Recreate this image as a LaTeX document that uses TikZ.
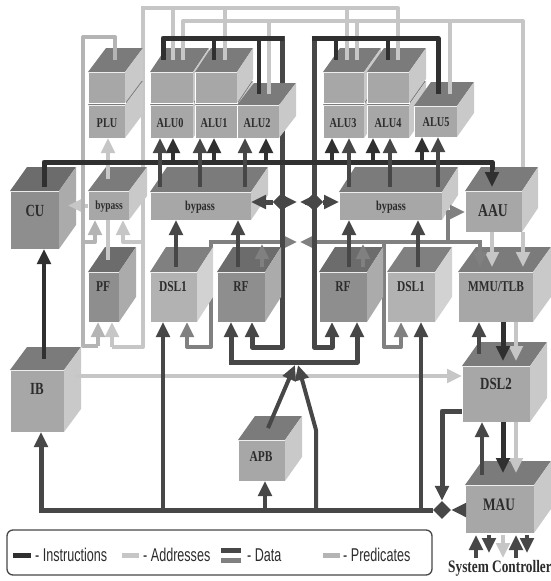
\documentclass[tikz,border=0pt]{standalone}
\usepackage{fontspec}
\setmainfont{Liberation Serif}
\newfontfamily\cubefont[FakeStretch=0.76]{Liberation Serif Bold}
\newfontfamily\legendfont[FakeStretch=0.68]{Liberation Sans}
\usetikzlibrary{arrows.meta,shapes.geometric,backgrounds}
\definecolor{stdface}{HTML}{A7A7A7}\definecolor{stdside}{HTML}{C9C9C9}\definecolor{stdtop}{HTML}{7B7B7B}
\definecolor{darkface}{HTML}{8E8E8E}\definecolor{darkside}{HTML}{ABABAB}\definecolor{darktop}{HTML}{6C6C6C}
\definecolor{liteface}{HTML}{B2B2B2}\definecolor{liteside}{HTML}{D2D2D2}\definecolor{litetop}{HTML}{808080}
\definecolor{cI}{HTML}{303030}\definecolor{cD}{HTML}{474747}\definecolor{cM}{HTML}{808080}
\definecolor{cA}{HTML}{C6C6C6}\definecolor{cP}{HTML}{B4B4B4}\definecolor{cT}{HTML}{2C2C2C}
\tikzset{
 cubeface/.style={draw=white,line width=.5pt,inner sep=0pt,outer sep=0pt,anchor=north west},
 lbl/.style={text=cT,inner sep=0pt,font=\cubefont\fontsize{#1}{#1}\selectfont},
 wire/.style={line width=4pt,line join=round},
 instr/.style={wire,draw=cI},
 datad/.style={wire,draw=cD},
 datam/.style={wire,draw=cM},
 addr/.style={wire,draw=cA},
 pred/.style={wire,draw=cP},
 heavy/.style={line width=5pt},
 arrowed/.style={-{Triangle[length=15pt,width=13.5pt]}},
 junction/.style={diamond,aspect=1,fill=cD,inner sep=0pt,minimum width=18pt,minimum height=18pt},
 legtext/.style={text=cT,inner sep=0pt,anchor=west,font=\legendfont\fontsize{18.5}{19}\selectfont},
 legbar/.style={line width=5pt},
}
% name, x, y, w, h, dx, dy, tone
\newcommand\cube[8]{%
 \node[cubeface,fill=#8face,minimum width=#4pt,minimum height=#5pt] (#1) at (#2,#3) {};
 \fill[#8top] (#1.north west) -- ++(#6,-#7) -- ++(#4,0) -- (#1.north east) -- cycle;
 \fill[#8side] (#1.north east) -- ++(#6,-#7) -- ++(0,#5) -- (#1.south east) -- cycle;
 \coordinate (#1-top) at ([xshift=.5*#6 pt,yshift=.5*#7 pt]#1.north);
 \coordinate (#1-lip) at ([yshift=5pt]#1.north);
}
\begin{document}
\begin{tikzpicture}[x=1pt,y=-1pt]
\useasboundingbox (0,0) rectangle (551,581);
% ---------- blocks
\cube{PLU}{88}{105}{37}{33}{18}{24}{std}
\cube{PLUup}{88}{72}{37}{31}{18}{24}{std}
\cube{ALU0}{150}{105}{43}{33}{16}{24}{std}
\cube{ALU0up}{150}{72}{43}{31}{16}{24}{std}
\cube{ALU1}{195}{105}{42}{33}{16}{24}{std}
\cube{ALU1up}{195}{72}{42}{31}{16}{24}{std}
\cube{ALU2}{237}{105}{42}{33}{17}{22}{std}
\cube{ALU3}{323}{105}{41}{33}{17}{24}{std}
\cube{ALU3up}{323}{72}{41}{31}{17}{24}{std}
\cube{ALU4}{367}{105}{42}{33}{17}{24}{std}
\cube{ALU4up}{367}{72}{42}{31}{17}{24}{std}
\cube{ALU5}{414}{106}{43}{31}{17}{24}{std}
\cube{CU}{10}{191}{49}{58}{17}{24}{dark}
\cube{bypassS}{88}{191}{41}{29}{18}{24}{std}
\cube{bypassL}{150}{192}{101}{28}{17}{25}{std}
\cube{bypassR}{339}{192}{103}{28}{16}{25}{std}
\cube{AAU}{465}{191}{57}{41}{16}{24}{std}
\cube{PF}{88}{272}{31}{50}{17}{25}{dark}
\cube{DSL1L}{150}{272}{47}{50}{16}{25}{lite}
\cube{RFL}{217}{272}{48}{50}{16}{25}{dark}
\cube{RFR}{319}{272}{48}{50}{16}{25}{dark}
\cube{DSL1R}{387}{272}{48}{50}{17}{25}{lite}
\cube{MMU}{458}{272}{75}{50}{18}{25}{std}
\cube{DSL2}{462}{366}{68}{56}{17}{24}{std}
\cube{MAU}{465}{485}{69}{48}{17}{24}{std}
\cube{IB}{10}{370}{54}{62}{17}{23}{std}
\cube{APB}{238}{440}{47}{41}{17}{24}{std}
% ---------- block labels
\node[lbl=13.5] (tPLU) at (107,123) {PLU};
\node[lbl=13.5] (tALU0) at (170,123) {ALU0};
\node[lbl=13.5] (tALU1) at (214,123) {ALU1};
\node[lbl=13.5] (tALU2) at (257,123) {ALU2};
\node[lbl=13.5] (tALU3) at (343,123) {ALU3};
\node[lbl=13.5] (tALU4) at (388,123) {ALU4};
\node[lbl=13.5] (tALU5) at (436,122) {ALU5};
\node[lbl=17] (tCU) at (35,211) {CU};
\node[lbl=12.5] (tbS) at (109,207) {bypass};
\node[lbl=13.5] (tbL) at (200,207) {bypass};
\node[lbl=13.5] (tbR) at (391,207) {bypass};
\node[lbl=18] (tAAU) at (493,211) {AAU};
\node[lbl=15] (tPF) at (103,287) {PF};
\node[lbl=15] (tDL) at (173,287) {DSL1};
\node[lbl=15] (tRL) at (241,287) {RF};
\node[lbl=15] (tRR) at (343,287) {RF};
\node[lbl=15] (tDR) at (411,287) {DSL1};
\node[lbl=15] (tMMU) at (496,287) {MMU/TLB};
\node[lbl=17] (tDSL2) at (496,384) {DSL2};
\node[lbl=17.5] (tMAU) at (499,505) {MAU};
\node[lbl=17] (tIB) at (37,389) {IB};
\node[lbl=15] (tAPB) at (261,457) {APB};
\node[lbl=17.5] (tSC) at (500,568) {System Controller};
% ---------- junctions and free ends
\node[junction] (dL) at (282,202) {};
\node[junction] (dR) at (314,202) {};
\node[junction] (dB) at (442,510) {};
\coordinate (jL) at (297,202);
\coordinate (jR) at (300,202);
\coordinate (mL) at (297,242);
\coordinate (mR) at (300,242);
\coordinate (hubL) at (295,365);
\coordinate (hubR) at (298,365);
\coordinate (cuin) at (44,187);
\coordinate (aauin) at (492,187);
\coordinate (aauback) at (523,167);
\coordinate (sc) at (500,558);
\coordinate (scs) at (500,553);
% ---------- links running behind the blocks
\begin{pgfonlayer}{background}
 \draw[addr] (143,6) -- (143,347) -- (112,347);
 \draw[addr,arrowed] (112,347) -- (112,0 |- PF.south);
 \draw[addr,arrowed] (143,242) -- (123,242) -- (123,0 |- bypassS.south);
 \draw[datam,arrowed] (211,242) -- (211,347) -- (187,347) -- (187,0 |- DSL1L.south);
 \draw[datam,arrowed] (209,242) -- (mL);
 \draw[datam,arrowed] (482,242) -- (mR);
 \draw[datam,arrowed] (384,242) -- (384,347) -- (401,347) -- (401,0 |- DSL1R.south);
 \draw[datad,heavy,arrowed] (282,35.5) -- (282,347) -- (252,347) -- (252,0 |- RFL.south);
 \draw[datad,heavy,arrowed] (314,35.5) -- (314,347) -- (332,347) -- (332,0 |- RFR.south);
\end{pgfonlayer}
% ---------- addresses
\draw[addr] (141,8) -- (398,8) -- (398,0 |- ALU4up-top);
\draw[addr] (173,6) -- (173,0 |- ALU0up-top);
\draw[addr] (225,6) -- (225,0 |- ALU1up-top);
\draw[addr] (347,6) -- (347,0 |- ALU3up-top);
\draw[addr] (183,0 |- ALU0up-top) -- (183,21) -- (523,21) -- (aauback);
\draw[addr] (269,19) -- (269,0 |- ALU2-top);
\draw[addr] (357,19) -- (357,0 |- ALU3up-top);
\draw[addr] (450,19) -- (450,0 |- ALU5-top);
\draw[addr] (108,0 |- PF-top) -- (108,0 |- bypassS.south);
\draw[addr,arrowed] (108,0 |- bypassS-top) -- (108,0 |- PLU.south);
\draw[addr,arrowed] (bypassS.west) -- (68,0 |- bypassS.west);
\draw[addr,arrowed] (75,376) -- (DSL2.west |- 0,376);
\draw[addr,arrowed] (492,0 |- AAU.south) -- (492,0 |- MMU-lip);
\draw[addr,arrowed] (523,0 |- AAU.south) -- (523,0 |- MMU-lip);
\draw[addr,arrowed] (516,0 |- MMU.south) -- (516,0 |- DSL2-lip);
\draw[addr,arrowed] (516,0 |- DSL2.south) -- (516,0 |- MAU-top);
% ---------- predicates
\draw[pred] (115,0 |- PLUup-top) -- (115,37) -- (83,37) -- (83,346) -- (98,346);
\draw[pred,arrowed] (98,346) -- (98,0 |- PF.south);
\draw[pred,arrowed] (83,242) -- (95,242) -- (95,0 |- bypassS.south);
% ---------- data (medium)
\draw[datam,arrowed] (262,0 |- RFL-lip) -- (262,244);
\draw[datam,arrowed] (363,0 |- RFR-lip) -- (363,244);
\draw[datam,arrowed] (480,240) -- (480,0 |- MMU-lip);
\draw[datam,arrowed] (448,242) -- (448,212) -- (465,212);
% ---------- instructions, top buses
\draw[instr,heavy] (163,0 |- ALU0up-top) -- (163,38) -- (284,38);
\draw[instr] (214,38) -- (214,0 |- ALU1up-top);
\draw[instr] (259,38) -- (259,0 |- ALU2-top);
\draw[instr,heavy] (311.5,38) -- (438,38) -- (438,0 |- ALU5-top);
\draw[instr] (336,38) -- (336,0 |- ALU3up-top);
\draw[instr] (388,38) -- (388,0 |- ALU4up-top);
% ---------- instruction bus to ALUs
\draw[instr,heavy] (cuin) -- (44,162) -- (492,162) -- (492,170);
\draw[instr,arrowed] (492,165) -- (aauin);
\foreach \x/\n in {173/ALU0,214/ALU1,266/ALU2,332/ALU3,373/ALU4,422/ALU5}
  \draw[instr,arrowed] (\x,162) -- (\x,0 |- \n.south);
% ---------- data from bypass to ALUs
\foreach \x/\n in {160/ALU0,200/ALU1,245/ALU2}
  \draw[datad,arrowed] (\x,0 |- bypassL-lip) -- (\x,0 |- \n.south);
\foreach \x/\n in {349/ALU3,390/ALU4,438/ALU5}
  \draw[datad,arrowed] (\x,0 |- bypassR-lip) -- (\x,0 |- \n.south);
% ---------- data to bypass
\draw[datad,arrowed] (176,0 |- DSL1L-lip) -- (176,0 |- bypassL.south);
\draw[datad,arrowed] (238,0 |- RFL-lip) -- (238,0 |- bypassL.south);
\draw[datad,arrowed] (349,0 |- RFR-lip) -- (349,0 |- bypassR.south);
\draw[datad,arrowed] (418,0 |- DSL1R-lip) -- (418,0 |- bypassR.south);
\draw[datad,heavy,arrowed] (dL) -- (bypassL.east |- dL);
\draw[datad,heavy,arrowed] (dL) -- (jL);
\draw[datad,heavy,arrowed] (dR) -- (jR);
\draw[datad,heavy,arrowed] (dR) -- (bypassR.west |- dR);
\node[junction] (dLc) at (dL) {};
\node[junction] (dRc) at (dR) {};
% ---------- CU, IB
\draw[instr,arrowed] (44,0 |- IB-top) -- (44,0 |- CU.south);
% ---------- RF feed bus
\draw[datad,heavy,arrowed] (231,362) -- (231,0 |- RFL.south);
\draw[datad,heavy,arrowed] (228.5,362) -- (357,362) -- (357,0 |- RFR.south);
\draw[datad,arrowed] (268,0 |- APB-top) -- (hubL);
\draw[datad,arrowed] (316,0 |- dB) -- (316,430) -- (hubR);
% ---------- bottom bus
\draw[datad,heavy] (dB) -- (41,0 |- dB);
\draw[datad,heavy,arrowed] (41,512.5) -- (41,0 |- IB.south);
\draw[datad,arrowed] (163,0 |- dB) -- (163,0 |- DSL1L.south);
\draw[datad,arrowed] (265,0 |- dB) -- (265,0 |- APB.south);
\draw[datad,arrowed] (421,0 |- dB) -- (421,0 |- DSL1R.south);
\draw[datad,heavy,arrowed] (MAU.west |- dB) -- (dB.east);
\draw[datad,heavy,arrowed] (DSL2.west |- 0,411) -- (442,411) -- (dB.north);
% ---------- memory links
\draw[datad,arrowed] (479,0 |- DSL2-top) -- (479,0 |- MMU.south);
\draw[instr,heavy,arrowed] (503,0 |- MMU.south) -- (503,0 |- DSL2-lip);
\draw[datad,arrowed] (482,475) -- (482,0 |- DSL2.south);
\draw[instr,heavy,arrowed] (503,0 |- DSL2.south) -- (503,0 |- MAU-top);
% ---------- system controller pins
\draw[datad,arrowed] (476,0 |- sc) -- (476,535);
\draw[datad,arrowed] (489,535) -- (489,0 |- scs);
\draw[addr,arrowed] (503,535) -- (503,0 |- sc);
\draw[datad,arrowed] (516,0 |- sc) -- (516,535);
\draw[datad,arrowed] (527,535) -- (527,0 |- scs);
% ---------- legend
\draw[draw=cD,line width=1.3pt,rounded corners=6pt] (7,530) rectangle (432,575);
\draw[legbar,cI] (13,555) -- (31,555);
\node[legtext] (lI) at (35,555) {- Instructions};
\draw[legbar,cA] (122,555) -- (139,555);
\node[legtext] (lA) at (143,555) {- Addresses};
\draw[legbar,cD] (221,550) -- (241,550);
\draw[legbar,cM] (221,560) -- (241,560);
\node[legtext] (lD) at (247,555) {- Data};
\draw[legbar,cP] (323,555) -- (340,555);
\node[legtext] (lP) at (343,555) {- Predicates};
\end{tikzpicture}
\end{document}
